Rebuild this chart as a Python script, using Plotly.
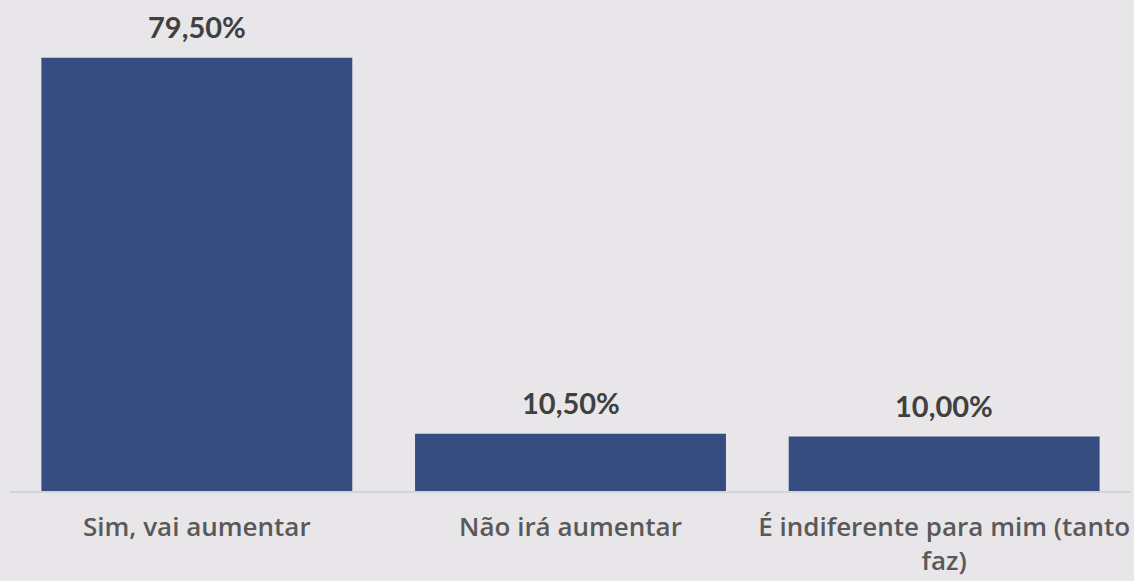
import plotly.graph_objects as go

categories = ["Sim, vai aumentar", "Não irá aumentar", "É indiferente para mim (tanto<br>faz)"]
values = [79.5, 10.5, 10.0]
labels = ["79,50%", "10,50%", "10,00%"]

bg = "#E8E6E9"
fig = go.Figure(go.Bar(
    x=categories, y=values,
    marker=dict(color="#374C80", line=dict(width=0)),
    hoverinfo="skip",
))
for c, v, t in zip(categories, values, labels):
    fig.add_annotation(x=c, y=v, text=t, showarrow=False, yanchor="bottom", yshift=12,
                       font=dict(family="Lato", size=29, color="#404040", weight="bold"))
fig.update_layout(
    width=1134, height=581,
    paper_bgcolor=bg, plot_bgcolor=bg,
    margin=dict(l=10, r=3, t=0, b=90),
    bargap=0.168, showlegend=False,
    xaxis=dict(showline=True, linecolor="#D4D3D6", linewidth=2, ticks="",
               ticklabelstandoff=12,
               tickfont=dict(family="Open Sans", size=26, color="#595959", weight=600)),
    yaxis=dict(range=[0, 90.1], visible=False, showgrid=False),
)
fig.write_html("out.html", config={"displayModeBar": False},
               post_script="document.body.style.margin='0';document.body.style.padding='0';")
